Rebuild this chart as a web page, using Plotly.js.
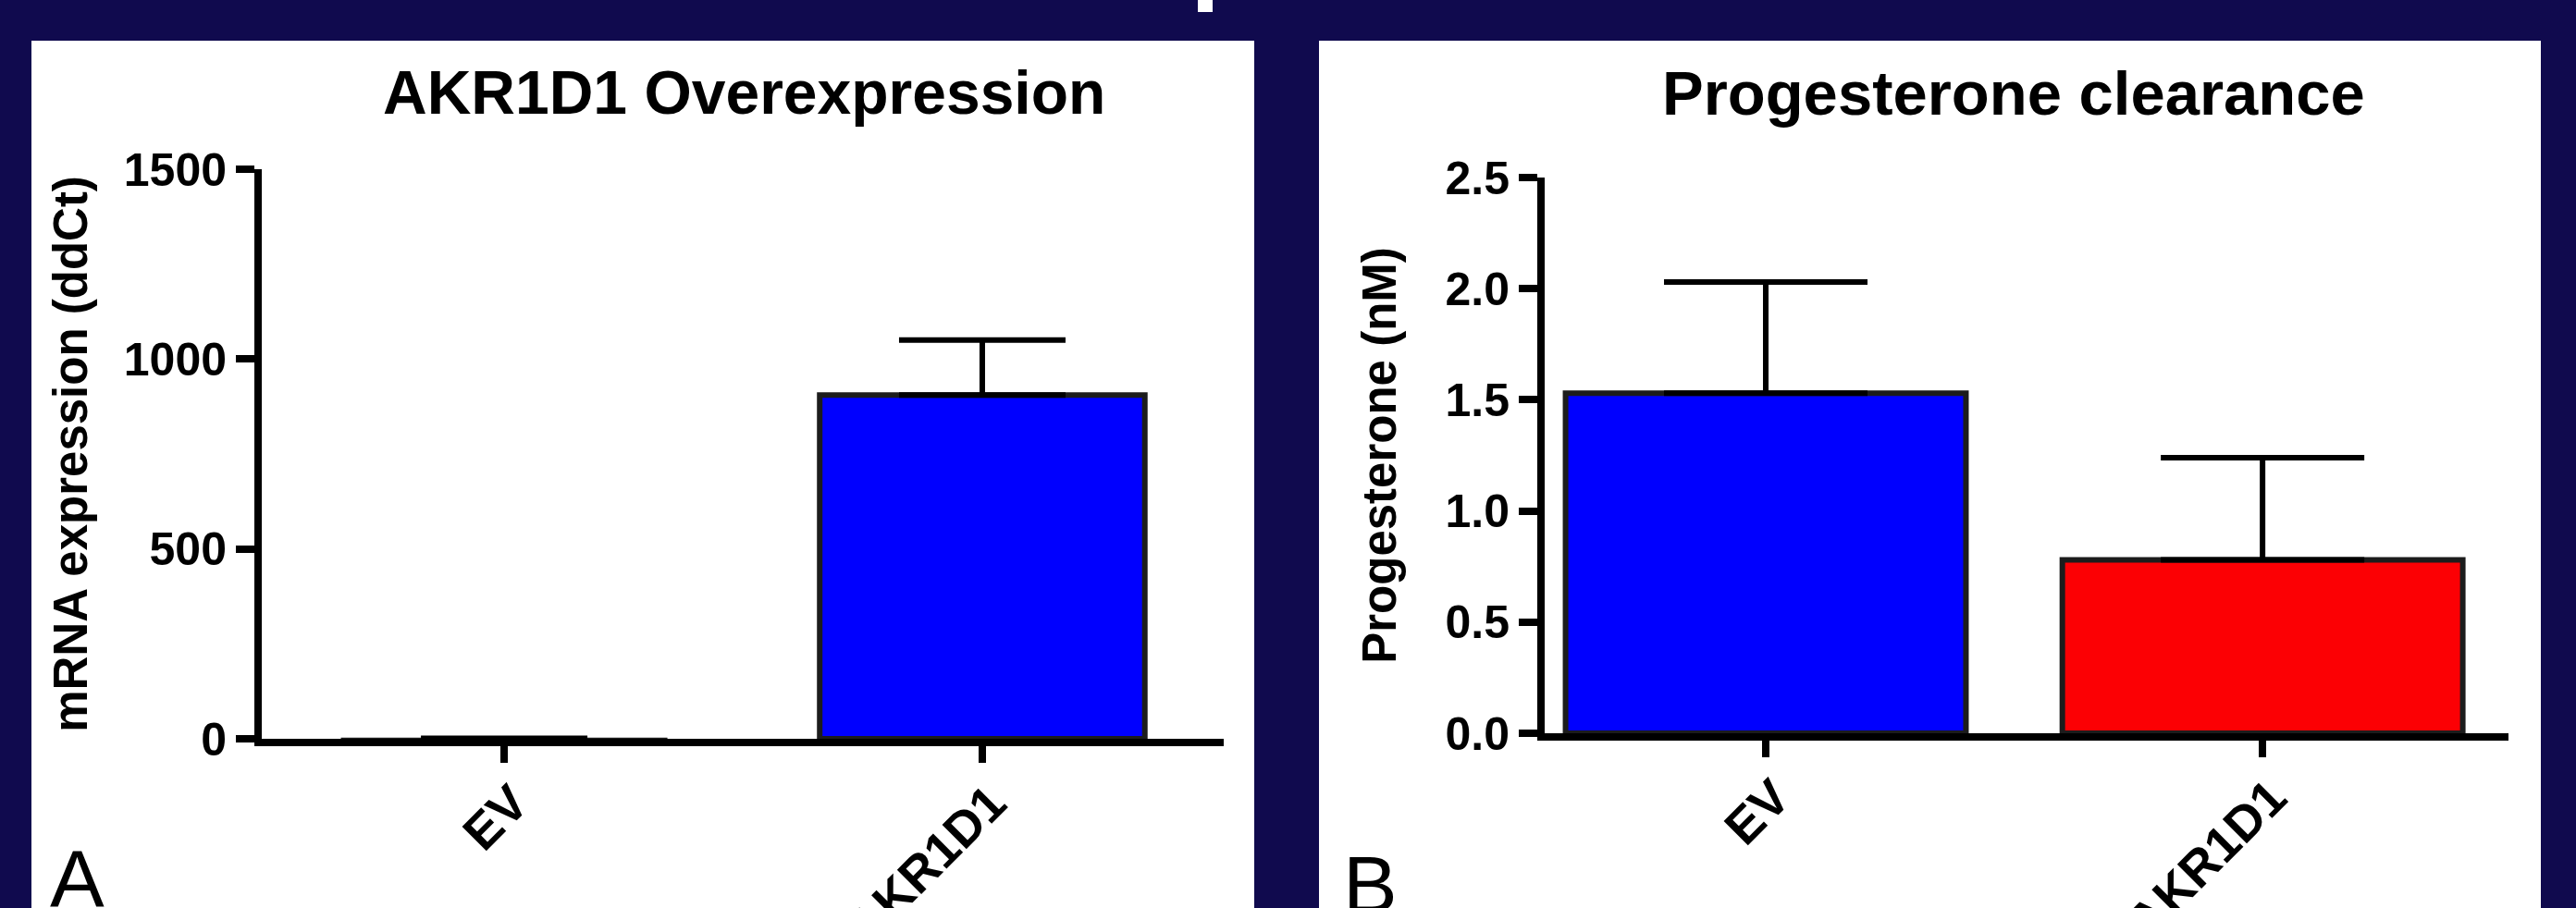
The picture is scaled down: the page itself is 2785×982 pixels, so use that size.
<!DOCTYPE html>
<html>
<head>
<meta charset="utf-8">
<script src="https://cdn.plot.ly/plotly-3.0.1.min.js"></script>
<style>
  html, body { margin: 0; padding: 0; background: #100a4e; }
  #chart { width: 2785px; height: 982px; }
</style>
</head>
<body>
<div id="chart"></div>
<script>
// ---- data ----
const categories = ['EV', 'AKR1D1'];
const mrnaValues = [1, 905];
const mrnaErrors = [0, 145];
const progValues = [1.53, 0.78];
const progErrors = [0.50, 0.46];
const mrnaColors = ['#0000ff', '#0000ff'];
const progColors = ['#0000ff', '#fc0004'];
const chartTitles = ['AKR1D1 Overexpression', 'Progesterone clearance'];
const yTitles = ['mRNA expression (ddCt)', 'Progesterone (nM)'];
const panelLetters = ['A', 'B'];

// ---- layout helpers ----
const W = 2785, H = 982;
const px = v => v / W;
const py = v => 1 - v / H;
const NAVY = '#100a4e';
const FONT = 'Liberation Sans, Arial, sans-serif';

const errStyle = { color: '#000000', thickness: 6 };

const traces = [
  {
    type: 'bar', x: categories, y: mrnaValues,
    xaxis: 'x', yaxis: 'y', width: 0.68,
    marker: { color: mrnaColors, line: { color: '#1c1c1c', width: [1.5, 6] } },
    error_y: Object.assign({ type: 'data', symmetric: false, array: mrnaErrors,
      arrayminus: mrnaErrors.map(() => 0), width: 90 }, errStyle),
    hoverinfo: 'x+y', showlegend: false
  },
  {
    type: 'bar', x: categories, y: progValues,
    xaxis: 'x2', yaxis: 'y2', width: 0.806,
    marker: { color: progColors, line: { color: '#1c1c1c', width: 6 } },
    error_y: Object.assign({ type: 'data', symmetric: false, array: progErrors,
      arrayminus: progErrors.map(() => 0), width: 110 }, errStyle),
    hoverinfo: 'x+y', showlegend: false
  }
];

const yTickFont = { family: FONT, size: 50, color: '#000', weight: 700 };
const xTickFont = { family: FONT, size: 54, color: '#000', weight: 700 };
const titleFont = { family: FONT, size: 51, color: '#000', weight: 700 };

function xAxis(domain, range, anchor) {
  return {
    domain: domain, range: range, anchor: anchor, type: 'category',
    showline: true, linewidth: 8, linecolor: '#000',
    ticks: 'outside', ticklen: 18, tickwidth: 8, tickcolor: '#000',
    tickangle: -45, tickfont: xTickFont,
    ticklabelstandoff: -10, ticklabelshift: 10,
    showgrid: false, zeroline: false, automargin: false, fixedrange: true
  };
}
function yAxis(domain, range, dtick, fmt, title, standoff, anchor) {
  return {
    domain: domain, range: range, anchor: anchor,
    dtick: dtick, tick0: 0, tickformat: fmt,
    showline: true, linewidth: 8, linecolor: '#000',
    ticks: 'outside', ticklen: 20, tickwidth: 8, tickcolor: '#000',
    tickfont: yTickFont,
    title: { text: title, font: titleFont, standoff: standoff },
    showgrid: false, zeroline: false, automargin: false, fixedrange: true
  };
}

const layout = {
  width: W, height: H,
  margin: { l: 0, r: 0, t: 0, b: 0, pad: 0 },
  paper_bgcolor: NAVY,
  plot_bgcolor: 'rgba(0,0,0,0)',
  showlegend: false,
  xaxis: xAxis([px(283), px(1323)], [-0.507, 1.505], 'y'),
  yaxis: yAxis([py(799), py(183)], [0, 1500], 500, 'd', yTitles[0], 26, 'x'),
  xaxis2: xAxis([px(1670), px(2712)], [-0.445, 1.495], 'y2'),
  yaxis2: yAxis([py(793), py(192)], [0, 2.5], 0.5, '.1f', yTitles[1], 40, 'x2'),
  shapes: [
    { type: 'rect', xref: 'paper', yref: 'paper', layer: 'below',
      x0: px(34), x1: px(1356), y0: py(982), y1: py(44),
      fillcolor: '#ffffff', line: { width: 0 } },
    { type: 'rect', xref: 'paper', yref: 'paper', layer: 'below',
      x0: px(1426), x1: px(2747), y0: py(982), y1: py(44),
      fillcolor: '#ffffff', line: { width: 0 } },
    { type: 'rect', xref: 'paper', yref: 'paper', layer: 'below',
      x0: px(1295), x1: px(1311), y0: py(13), y1: py(0),
      fillcolor: '#ffffff', line: { width: 0 } }
  ],
  annotations: [
    { text: chartTitles[0], xref: 'paper', yref: 'paper', x: px(804), y: py(100),
      xanchor: 'center', yanchor: 'middle', showarrow: false,
      font: { family: FONT, size: 66, color: '#000', weight: 700 } },
    { text: chartTitles[1], xref: 'paper', yref: 'paper', x: px(2177), y: py(100),
      xanchor: 'center', yanchor: 'middle', showarrow: false,
      font: { family: FONT, size: 67, color: '#000', weight: 700 } },
    { text: panelLetters[0], xref: 'paper', yref: 'paper', x: px(52), y: py(899),
      xanchor: 'left', yanchor: 'top', showarrow: false,
      font: { family: FONT, size: 88, color: '#000' } },
    { text: panelLetters[1], xref: 'paper', yref: 'paper', x: px(1450), y: py(905),
      xanchor: 'left', yanchor: 'top', showarrow: false,
      font: { family: FONT, size: 88, color: '#000' } }
  ]
};

Plotly.newPlot('chart', traces, layout, { staticPlot: true, displayModeBar: false });
</script>
</body>
</html>
